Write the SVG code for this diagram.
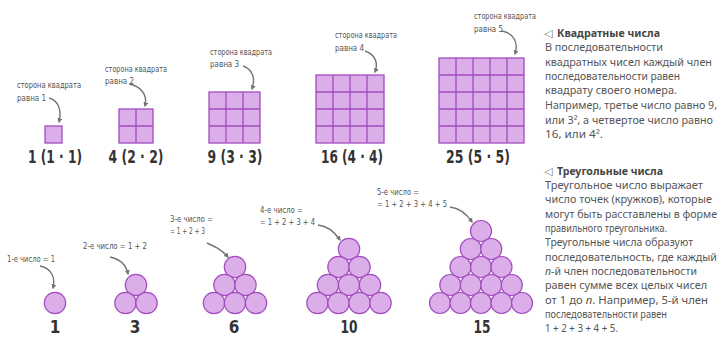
<svg xmlns="http://www.w3.org/2000/svg" width="721" height="342" viewBox="0 0 721 342">
<style>
.sq{fill:#dbaeea;stroke:#a24cbd;stroke-width:1.3}
.gl{fill:none;stroke:#a24cbd;stroke-width:1.3}
.c{fill:#dbaeea;stroke:#a24cbd;stroke-width:1.2}
.num{font-family:"DejaVu Sans Condensed","DejaVu Sans",sans-serif;font-weight:bold;font-size:17px;fill:#333;text-anchor:middle}
.lbl{font-family:"DejaVu Sans Condensed","DejaVu Sans",sans-serif;font-size:8.5px;fill:#555}
.body{font-family:"Noto Sans","Open Sans",sans-serif;font-size:11px;fill:#555}
.tight{font-size:10.4px}
.head{font-family:"Noto Sans","Open Sans",sans-serif;font-size:11.3px;font-weight:bold;fill:#444}
.tri{font-family:"DejaVu Sans",sans-serif;font-size:11px;fill:#777}
.arr{fill:none;stroke:#737373;stroke-width:1.4;marker-end:url(#ah)}
</style>
<defs>
<marker id="ah" viewBox="0 0 8 8" refX="6" refY="4" markerWidth="5" markerHeight="5" orient="auto" markerUnits="userSpaceOnUse">
<path d="M0,0 L8,4 L0,8 z" fill="#737373"/>
</marker>
</defs>
<rect width="721" height="342" fill="#fff"/>

<g id="sq1">
<text class="lbl" x="17" y="88" textLength="64" lengthAdjust="spacingAndGlyphs">сторона квадрата</text>
<text class="lbl" x="17" y="101" textLength="29" lengthAdjust="spacingAndGlyphs">равна 1</text>
<rect class="sq" x="45" y="126" width="17" height="17"/>
<text class="num" x="55" y="163" textLength="54" lengthAdjust="spacingAndGlyphs">1 (1 · 1)</text>
</g>
<g id="sq2">
<text class="lbl" x="105" y="72" textLength="62" lengthAdjust="spacingAndGlyphs">сторона квадрата</text>
<text class="lbl" x="105" y="84" textLength="29" lengthAdjust="spacingAndGlyphs">равна 2</text>
<rect class="sq" x="119" y="109" width="34" height="34"/>
<path class="gl" d="M136,109V143M119,126H153"/>
<text class="num" x="136" y="163" textLength="55" lengthAdjust="spacingAndGlyphs">4 (2 · 2)</text>
</g>
<g id="sq3">
<text class="lbl" x="210" y="55" textLength="62" lengthAdjust="spacingAndGlyphs">сторона квадрата</text>
<text class="lbl" x="210" y="67" textLength="29" lengthAdjust="spacingAndGlyphs">равна 3</text>
<rect class="sq" x="209" y="92" width="51" height="51"/>
<path class="gl" d="M226,92V143M243,92V143M209,109H260M209,126H260"/>
<text class="num" x="235" y="163" textLength="55" lengthAdjust="spacingAndGlyphs">9 (3 · 3)</text>
</g>
<g id="sq4">
<text class="lbl" x="335" y="38" textLength="62" lengthAdjust="spacingAndGlyphs">сторона квадрата</text>
<text class="lbl" x="335" y="51" textLength="29" lengthAdjust="spacingAndGlyphs">равна 4</text>
<rect class="sq" x="316" y="75" width="68" height="68"/>
<path class="gl" d="M333,75V143M350,75V143M367,75V143M316,92H384M316,109H384M316,126H384"/>
<text class="num" x="352" y="163" textLength="62" lengthAdjust="spacingAndGlyphs">16 (4 · 4)</text>
</g>
<g id="sq5">
<text class="lbl" x="474" y="19" textLength="62" lengthAdjust="spacingAndGlyphs">сторона квадрата</text>
<text class="lbl" x="474" y="32" textLength="29" lengthAdjust="spacingAndGlyphs">равна 5</text>
<rect class="sq" x="439" y="58" width="85" height="85"/>
<path class="gl" d="M456,58V143M473,58V143M490,58V143M507,58V143M439,75H524M439,92H524M439,109H524M439,126H524"/>
<text class="num" x="478" y="163" textLength="64" lengthAdjust="spacingAndGlyphs">25 (5 · 5)</text>
</g>

<g id="t1">
<text class="lbl" x="7" y="262" textLength="48" lengthAdjust="spacingAndGlyphs">1-е число = 1</text>
<circle class="c" cx="55" cy="303" r="10.7"/>
<text class="num" x="55" y="333">1</text>
</g>
<g id="t3">
<text class="lbl" x="83" y="249" textLength="64" lengthAdjust="spacingAndGlyphs">2-е число = 1 + 2</text>
<circle class="c" cx="136" cy="285" r="10.7"/>
<circle class="c" cx="125.5" cy="303" r="10.7"/>
<circle class="c" cx="146.5" cy="303" r="10.7"/>
<text class="num" x="135" y="333">3</text>
</g>
<g id="t6">
<text class="lbl" x="170" y="222" textLength="43" lengthAdjust="spacingAndGlyphs">3-е число =</text>
<text class="lbl" x="170" y="234" textLength="35" lengthAdjust="spacingAndGlyphs">= 1 + 2 + 3</text>
<circle class="c" cx="235" cy="267" r="10.7"/>
<circle class="c" cx="224.5" cy="285" r="10.7"/>
<circle class="c" cx="245.5" cy="285" r="10.7"/>
<circle class="c" cx="214" cy="303" r="10.7"/>
<circle class="c" cx="235" cy="303" r="10.7"/>
<circle class="c" cx="256" cy="303" r="10.7"/>
<text class="num" x="234" y="333">6</text>
</g>
<g id="t10">
<text class="lbl" x="260" y="213" textLength="43" lengthAdjust="spacingAndGlyphs">4-е число =</text>
<text class="lbl" x="260" y="225" textLength="55" lengthAdjust="spacingAndGlyphs">= 1 + 2 + 3 + 4</text>
<circle class="c" cx="349" cy="249" r="10.7"/>
<circle class="c" cx="338.5" cy="267" r="10.7"/>
<circle class="c" cx="359.5" cy="267" r="10.7"/>
<circle class="c" cx="328" cy="285" r="10.7"/>
<circle class="c" cx="349" cy="285" r="10.7"/>
<circle class="c" cx="370" cy="285" r="10.7"/>
<circle class="c" cx="317.5" cy="303" r="10.7"/>
<circle class="c" cx="338.5" cy="303" r="10.7"/>
<circle class="c" cx="359.5" cy="303" r="10.7"/>
<circle class="c" cx="380.5" cy="303" r="10.7"/>
<text class="num" x="349" y="333" textLength="17" lengthAdjust="spacingAndGlyphs">10</text>
</g>
<g id="t15">
<text class="lbl" x="377" y="195" textLength="42" lengthAdjust="spacingAndGlyphs">5-е число =</text>
<text class="lbl" x="377" y="207" textLength="70" lengthAdjust="spacingAndGlyphs">= 1 + 2 + 3 + 4 + 5</text>
<circle class="c" cx="481" cy="231" r="10.5"/>
<circle class="c" cx="470.75" cy="249" r="10.5"/>
<circle class="c" cx="491.25" cy="249" r="10.5"/>
<circle class="c" cx="460.5" cy="267" r="10.5"/>
<circle class="c" cx="481" cy="267" r="10.5"/>
<circle class="c" cx="501.5" cy="267" r="10.5"/>
<circle class="c" cx="450.25" cy="285" r="10.5"/>
<circle class="c" cx="470.75" cy="285" r="10.5"/>
<circle class="c" cx="491.25" cy="285" r="10.5"/>
<circle class="c" cx="511.75" cy="285" r="10.5"/>
<circle class="c" cx="440" cy="303" r="10.5"/>
<circle class="c" cx="460.5" cy="303" r="10.5"/>
<circle class="c" cx="481" cy="303" r="10.5"/>
<circle class="c" cx="501.5" cy="303" r="10.5"/>
<circle class="c" cx="522" cy="303" r="10.5"/>
<text class="num" x="482" y="333" textLength="17" lengthAdjust="spacingAndGlyphs">15</text>
</g>

<g id="connectors">
<path class="arr" d="M49,98 C58,100 62,110 59,122"/>
<path class="arr" d="M129,84 C140,86 148,94 145,106"/>
<path class="arr" d="M243,66 C252,69 256,78 252,89"/>
<path class="arr" d="M365,51 C374,54 379,62 375,72"/>
<path class="arr" d="M502,31 C513,33 519,42 515,54"/>
<path class="arr" d="M40,266 C50,268 56,276 53,288"/>
<path class="arr" d="M110,257 C120,259 126,264 128,274"/>
<path class="arr" d="M207,243 C216,247 222,250 228,257"/>
<path class="arr" d="M318,225 C328,226 334,231 340,240"/>
<path class="arr" d="M450,207 C459,208 466,213 472,222"/>
</g>

<g id="squares-text">
<text class="tri" x="544" y="37">◁</text>
<text class="head" x="557" y="37" textLength="103" lengthAdjust="spacingAndGlyphs">Квадратные числа</text>
<text class="body" x="545" y="51" textLength="118" lengthAdjust="spacingAndGlyphs">В последовательности</text>
<text class="body" x="545" y="66" textLength="167" lengthAdjust="spacingAndGlyphs">квадратных чисел каждый член</text>
<text class="body" x="545" y="80" textLength="135" lengthAdjust="spacingAndGlyphs">последовательности равен</text>
<text class="body" x="545" y="94" textLength="132" lengthAdjust="spacingAndGlyphs">квадрату своего номера.</text>
<text class="body tight" x="545" y="109" textLength="172" lengthAdjust="spacingAndGlyphs">Например, третье число равно 9,</text>
<text class="body" x="545" y="124" textLength="168" lengthAdjust="spacingAndGlyphs">или 3², а четвертое число равно</text>
<text class="body" x="545" y="138" textLength="58" lengthAdjust="spacingAndGlyphs">16, или 4².</text>
</g>
<g id="triangle-text">
<text class="tri" x="544" y="175">◁</text>
<text class="head" x="557" y="175" textLength="106" lengthAdjust="spacingAndGlyphs">Треугольные числа</text>
<text class="body" x="545" y="189" textLength="158" lengthAdjust="spacingAndGlyphs">Треугольное число выражает</text>
<text class="body" x="545" y="203" textLength="167" lengthAdjust="spacingAndGlyphs">число точек (кружков), которые</text>
<text class="body tight" x="545" y="218" textLength="172" lengthAdjust="spacingAndGlyphs">могут быть расставлены в форме</text>
<text class="body" x="545" y="232" textLength="122" lengthAdjust="spacingAndGlyphs">правильного треугольника.</text>
<text class="body" x="545" y="246" textLength="148" lengthAdjust="spacingAndGlyphs">Треугольные числа образуют</text>
<text class="body tight" x="545" y="261" textLength="172" lengthAdjust="spacingAndGlyphs">последовательность, где каждый</text>
<text class="body" x="545" y="275" textLength="152" lengthAdjust="spacingAndGlyphs"><tspan font-style="italic">n</tspan>-й член последовательности</text>
<text class="body" x="545" y="289" textLength="162" lengthAdjust="spacingAndGlyphs">равен сумме всех целых чисел</text>
<text class="body" x="545" y="304" textLength="163" lengthAdjust="spacingAndGlyphs">от 1 до <tspan font-style="italic">n</tspan>. Например, 5-й член</text>
<text class="body" x="545" y="318" textLength="122" lengthAdjust="spacingAndGlyphs">последовательности равен</text>
<text class="body" x="545" y="332" textLength="73" lengthAdjust="spacingAndGlyphs">1 + 2 + 3 + 4 + 5.</text>
</g>
</svg>
